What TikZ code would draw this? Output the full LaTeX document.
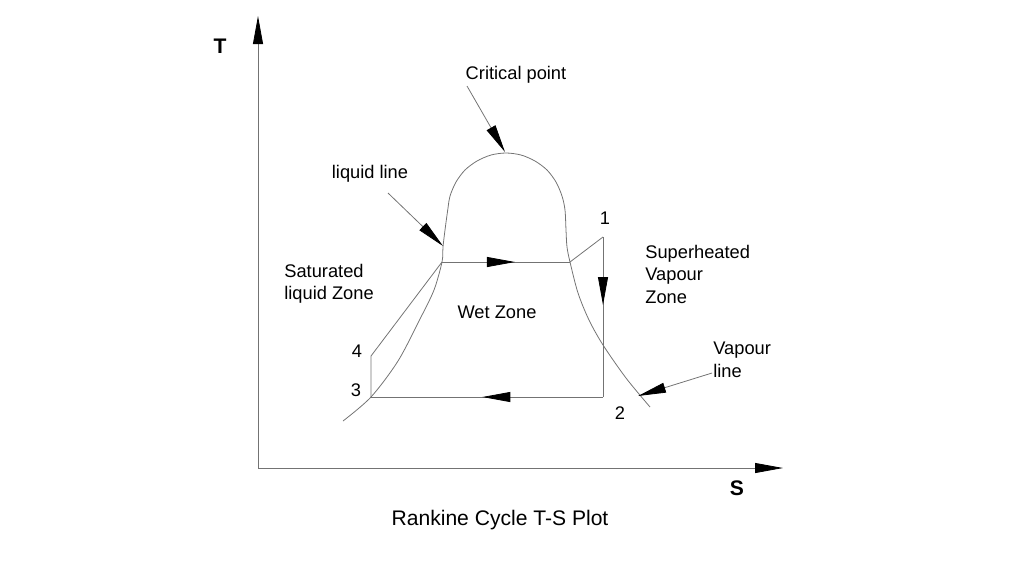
\documentclass[tikz,border=0pt]{standalone}
\usepackage{fontspec}
\setmainfont{Liberation Sans}
\usetikzlibrary{arrows.meta,decorations.markings}

\begin{document}
\begin{tikzpicture}[x=0.02cm,y=-0.02cm,
  thin line/.style={draw=black!55, line width=0.45pt},
  cadtip/.style={-{Triangle[length=0.56cm,width=0.2cm,black]}},
  midtip/.style={postaction={decorate},
    decoration={markings, mark=at position #1 with {\arrow{Triangle[length=0.56cm,width=0.2cm,black]}}}},
  lbl/.style={font=\fontsize{10.4}{12.6}\selectfont, inner sep=0pt, text=black},
  axlbl/.style={font=\fontsize{12}{14}\selectfont\bfseries, inner sep=0pt},
  zone/.style={inner sep=0pt, align=left, font=\fontsize{10.4}{12.8}\selectfont}]

% page frame
\useasboundingbox (0,0) rectangle (1024,576);

% axes
\coordinate (O) at (258,468);
\coordinate (Tend) at (258,16);
\coordinate (Send) at (783,468);
\draw[thin line, cadtip] (O) -- (Tend);
\draw[thin line, cadtip] (O) -- (Send);
\node[axlbl] (Tlbl) at (220,46) {T};
\node[axlbl] (Slbl) at (737,488) {S};

% saturation dome
\draw[thin line] plot[smooth, tension=0.5] coordinates {
  (343,421) (371,397) (398,361) (420,319) (434,290) (442,262)
  (443,247) (445,230) (448,208) (450,196) (456,182) (465,170)
  (477,161) (491,155) (506,153) (521,155) (535,161) (547,170)
  (556,182) (562,196) (565,210) (566,230) (567,247) (570,262)
  (578,293) (589,320) (603,345) (626,378) (650,407)};

% cycle state points
\coordinate (p1) at (603,237);
\coordinate (p2) at (603,397);
\coordinate (p3) at (371,397);
\coordinate (p4) at (371,356);
\coordinate (sl) at (442,262);
\coordinate (sv) at (570,262);

\draw[thin line] (p3) -- (p4) -- (sl);
\draw[thin line, midtip=0.57] (sl) -- (sv);
\draw[thin line] (sv) -- (p1);
\draw[thin line, midtip=0.425] (p1) -- (p2);
\draw[thin line, midtip=0.52] (p2) -- (p3);

\node[lbl] (n1) at (605,218) {1};
\node[lbl] (n2) at (620,413) {2};
\node[lbl] (n3) at (356,390) {3};
\node[lbl] (n4) at (357,351) {4};

% annotations with leaders
\node[lbl] (crit) at (516,75) {Critical point};
\coordinate (critS) at (467,86);
\coordinate (critE) at (505,152);
\draw[thin line, cadtip] (critS) -- (critE);

\node[lbl] (liq) at (370,174) {liquid line};
\coordinate (liqS) at (388,193);
\coordinate (liqE) at (443,246);
\draw[thin line, cadtip] (liqS) -- (liqE);

\node[zone, anchor=west] (vap) at (713,360) {Vapour\\line};
\coordinate (vapS) at (712,373);
\coordinate (vapE) at (638,396);
\draw[thin line, cadtip] (vapS) -- (vapE);

% zone labels
\node[zone, anchor=west] (satz) at (284,284) {Saturated\\liquid Zone};
\node[lbl] (wet) at (497,312) {Wet Zone};
\node[zone, anchor=west] (sup) at (645,274) {Superheated\\Vapour\\Zone};

% caption
\node[lbl, font=\fontsize{12}{14}\selectfont] (cap) at (500,520) {Rankine Cycle T-S Plot};
\end{tikzpicture}
\end{document}
